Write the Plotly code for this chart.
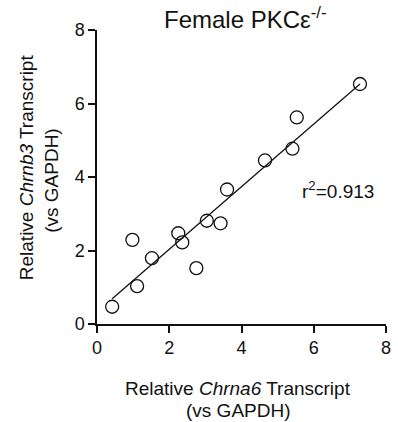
import numpy as np
import plotly.graph_objects as go

# ---- data ----
chrna6 = [0.42, 0.98, 1.11, 1.52, 2.25, 2.36, 2.75, 3.04, 3.42, 3.60, 4.65, 5.41, 5.53, 7.28]
chrnb3 = [0.47, 2.29, 1.03, 1.79, 2.47, 2.22, 1.52, 2.81, 2.74, 3.66, 4.45, 4.77, 5.62, 6.53]
tick_vals = [0, 2, 4, 6, 8]
tick_text = ["0", "2", "4", "6", "8"]
title_text = "Female PKCε<sup>-/-</sup>"
r2_text = "r<sup>2</sup>=0.913"
xtitle_lines = ["Relative <i>Chrna6</i> Transcript", "(vs GAPDH)"]
ytitle_lines = ["Relative <i>Chrnb3</i> Transcript", "(vs GAPDH)"]

FONT = "Liberation Sans, Arial, Helvetica, sans-serif"
INK = "#111111"

# linear regression line over the data span
xa = np.array(chrna6)
ya = np.array(chrnb3)
slope, intercept = np.polyfit(xa, ya, 1)
fit_x = [xa.min(), xa.max()]
fit_y = [slope * v + intercept for v in fit_x]

W, H = 398, 422
L, R, T, B = 97, 7, 30, 98
pw, ph = W - L - R, H - T - B


def px_to_paper_x(px):
    return (px - L) / pw


def px_to_paper_y(py):
    return (H - B - py) / ph


fig = go.Figure()
fig.add_trace(go.Scatter(x=fit_x, y=fit_y, mode="lines",
                         line=dict(color=INK, width=1.3), hoverinfo="skip",
                         showlegend=False))
fig.add_trace(go.Scatter(x=chrna6, y=chrnb3, mode="markers",
                         marker=dict(symbol="circle-open", size=13, color=INK,
                                     line=dict(width=1.3, color=INK)),
                         showlegend=False, cliponaxis=False))

axis_common = dict(range=[0, 8], tickvals=tick_vals, ticktext=tick_text,
                   showgrid=False, zeroline=False, showline=True,
                   linecolor=INK, linewidth=1.5, ticks="outside", ticklen=7,
                   tickwidth=1.5, tickcolor=INK,
                   tickfont=dict(family=FONT, size=18, color=INK))
fig.update_xaxes(**axis_common)
fig.update_yaxes(**axis_common)

annotations = [
    dict(text=title_text, x=px_to_paper_x(248), y=px_to_paper_y(18),
         xref="paper", yref="paper", xanchor="center", yanchor="middle",
         showarrow=False, font=dict(family=FONT, size=24, color=INK)),
    dict(text=r2_text, x=5.61, y=3.65, xref="x", yref="y",
         xanchor="left", yanchor="middle", showarrow=False,
         font=dict(family=FONT, size=19, color=INK)),
    dict(text=xtitle_lines[0], x=px_to_paper_x(240), y=px_to_paper_y(388),
         xref="paper", yref="paper", xanchor="center", yanchor="middle",
         showarrow=False, font=dict(family=FONT, size=19, color=INK)),
    dict(text=xtitle_lines[1], x=px_to_paper_x(241), y=px_to_paper_y(410),
         xref="paper", yref="paper", xanchor="center", yanchor="middle",
         showarrow=False, font=dict(family=FONT, size=19, color=INK)),
    dict(text=ytitle_lines[0], x=px_to_paper_x(25), y=px_to_paper_y(167),
         xref="paper", yref="paper", xanchor="center", yanchor="middle",
         textangle=-90, showarrow=False,
         font=dict(family=FONT, size=19, color=INK)),
    dict(text=ytitle_lines[1], x=px_to_paper_x(50), y=px_to_paper_y(180),
         xref="paper", yref="paper", xanchor="center", yanchor="middle",
         textangle=-90, showarrow=False,
         font=dict(family=FONT, size=19, color=INK)),
]

fig.update_layout(width=W, height=H, margin=dict(l=L, r=R, t=T, b=B, pad=0),
                  paper_bgcolor="white", plot_bgcolor="white",
                  font=dict(family=FONT, color=INK),
                  annotations=annotations, showlegend=False)

fig.write_html("out.html", config={"displayModeBar": False})
